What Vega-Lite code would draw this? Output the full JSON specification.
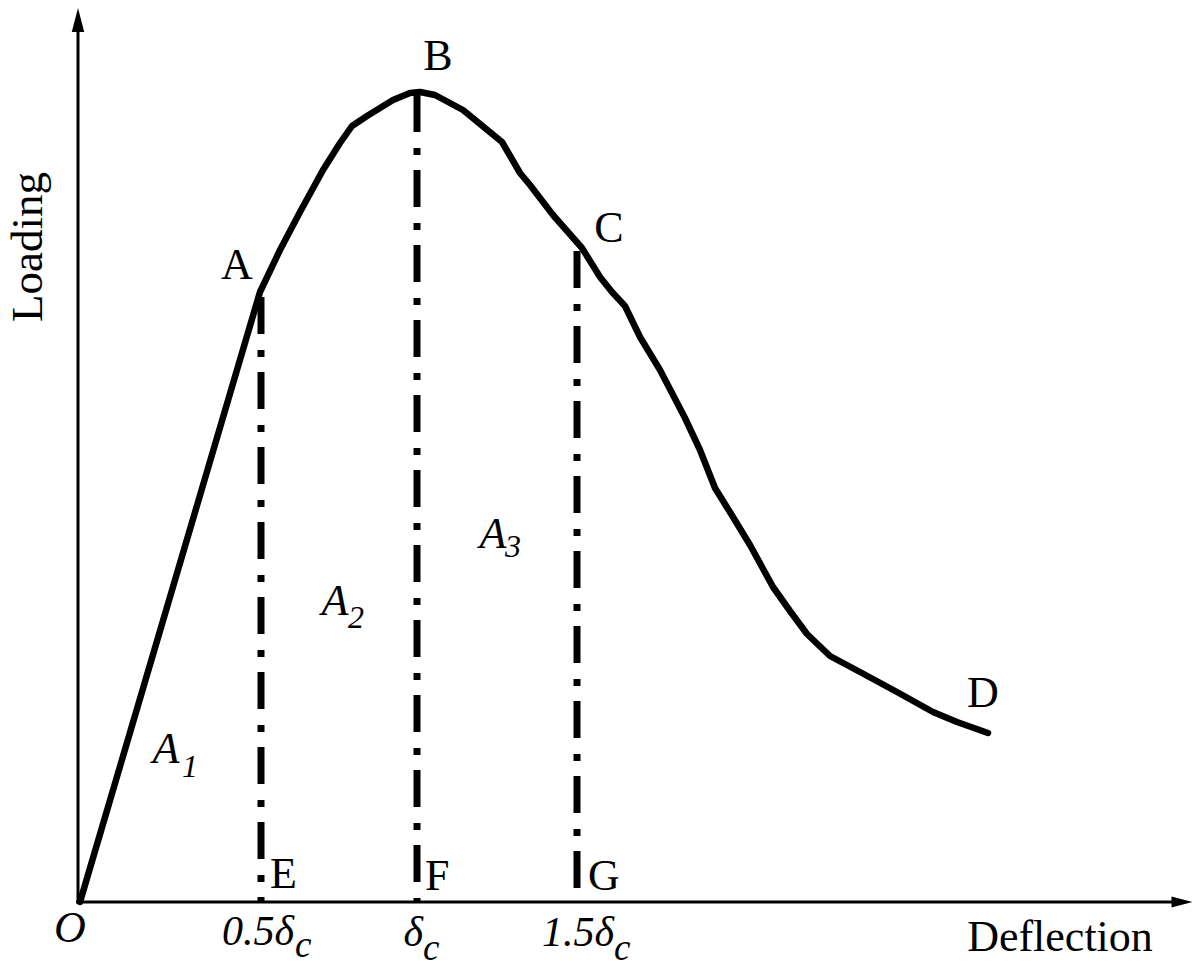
{
  "$schema": "https://vega.github.io/schema/vega-lite/v6.json",
  "width": 1201,
  "height": 975,
  "padding": 0,
  "autosize": {"type": "fit", "contains": "padding"},
  "background": "white",
  "config": {"view": {"stroke": null}},
  "datasets": {
    "curve": [
      {"x": 0, "y": 0}, {"x": 180, "y": 610}, {"x": 200, "y": 652}, {"x": 220, "y": 690},
      {"x": 243, "y": 732}, {"x": 260, "y": 759}, {"x": 272, "y": 776}, {"x": 287, "y": 786},
      {"x": 313, "y": 802}, {"x": 330, "y": 809}, {"x": 340, "y": 810}, {"x": 355, "y": 807}, {"x": 383, "y": 792},
      {"x": 422, "y": 760}, {"x": 440, "y": 729}, {"x": 450, "y": 717}, {"x": 473, "y": 687},
      {"x": 502, "y": 654}, {"x": 520, "y": 625}, {"x": 532, "y": 610}, {"x": 545, "y": 596},
      {"x": 560, "y": 565}, {"x": 580, "y": 532}, {"x": 605, "y": 484}, {"x": 620, "y": 452},
      {"x": 635, "y": 414}, {"x": 653, "y": 385}, {"x": 670, "y": 357}, {"x": 693, "y": 315},
      {"x": 710, "y": 291}, {"x": 727, "y": 268}, {"x": 750, "y": 246}, {"x": 780, "y": 230},
      {"x": 817, "y": 210}, {"x": 853, "y": 190}, {"x": 877, "y": 180}, {"x": 908, "y": 169}
    ],
    "axes": [
      {"x": -2, "y": 0, "x2": -2, "y2": 880},
      {"x": -4, "y": 0, "x2": 1100, "y2": 0}
    ],
    "arrows": [
      {"x": -2, "y": 882, "dir": "up"},
      {"x": 1102, "y": 0, "dir": "right"}
    ],
    "guides": [
      {"x": 181, "y": 605, "y2": 0},
      {"x": 337, "y": 807, "y2": 0},
      {"x": 497, "y": 651, "y2": 0}
    ],
    "labels": [
      {"x": 157, "y": 623, "text": "A", "align": "center"},
      {"x": 358, "y": 832, "text": "B", "align": "center"},
      {"x": 529, "y": 660, "text": "C", "align": "center"},
      {"x": 903, "y": 195, "text": "D", "align": "center"},
      {"x": 190, "y": 14, "text": "E", "align": "left"},
      {"x": 345, "y": 12, "text": "F", "align": "left"},
      {"x": 508, "y": 12, "text": "G", "align": "left"},
      {"x": 980, "y": -49, "text": "Deflection", "align": "center"}
    ],
    "italic": [
      {"x": -10, "y": -40, "text": "O", "align": "center"},
      {"x": 214, "y": -43, "text": "0.5δ", "align": "right"},
      {"x": 343, "y": -44, "text": "δ", "align": "right"},
      {"x": 534, "y": -44, "text": "1.5δ", "align": "right"},
      {"x": 215, "y": -55, "text": "c", "align": "left"},
      {"x": 343, "y": -58, "text": "c", "align": "left"},
      {"x": 534, "y": -58, "text": "c", "align": "left"},
      {"x": 86, "y": 139, "text": "A", "align": "center"},
      {"x": 255, "y": 287, "text": "A", "align": "center"},
      {"x": 413, "y": 354, "text": "A", "align": "center"}
    ],
    "subs": [
      {"x": 102, "y": 125, "text": "1"},
      {"x": 268, "y": 274, "text": "2"},
      {"x": 425, "y": 345, "text": "3"}
    ],
    "ylabel": [
      {"x": -38, "y": 655, "text": "Loading"}
    ]
  },
  "layer": [
    {
      "data": {"name": "axes"},
      "mark": {"type": "rule", "color": "black", "strokeWidth": 3},
      "encoding": {
        "x": {"field": "x", "type": "quantitative", "axis": null, "scale": {"domain": [-80, 1121], "nice": false, "zero": false}},
        "y": {"field": "y", "type": "quantitative", "axis": null, "scale": {"domain": [-73, 902], "nice": false, "zero": false}},
        "x2": {"field": "x2"},
        "y2": {"field": "y2"}
      }
    },
    {
      "data": {"name": "arrows"},
      "transform": [{"filter": "datum.dir === 'up'"}],
      "mark": {"type": "point", "shape": "M0,-1L-0.52,1L0.52,1Z", "filled": true, "color": "black", "size": 576, "opacity": 1},
      "encoding": {
        "x": {"field": "x", "type": "quantitative"},
        "y": {"field": "y", "type": "quantitative"}
      }
    },
    {
      "data": {"name": "arrows"},
      "transform": [{"filter": "datum.dir === 'right'"}],
      "mark": {"type": "point", "shape": "M1,0L-1,-0.52L-1,0.52Z", "filled": true, "color": "black", "size": 441, "opacity": 1},
      "encoding": {
        "x": {"field": "x", "type": "quantitative"},
        "y": {"field": "y", "type": "quantitative"}
      }
    },
    {
      "data": {"name": "guides"},
      "mark": {"type": "rule", "color": "black", "strokeWidth": 7, "strokeDash": [37, 16, 7, 15]},
      "encoding": {
        "x": {"field": "x", "type": "quantitative"},
        "y": {"field": "y", "type": "quantitative"},
        "y2": {"field": "y2"}
      }
    },
    {
      "data": {"name": "curve"},
      "mark": {"type": "line", "color": "black", "strokeWidth": 6.5, "strokeJoin": "round", "strokeCap": "round"},
      "encoding": {
        "x": {"field": "x", "type": "quantitative"},
        "y": {"field": "y", "type": "quantitative"},
        "order": {"field": "x", "type": "quantitative"}
      }
    },
    {
      "data": {"name": "labels"},
      "transform": [{"filter": "datum.align === 'center'"}],
      "mark": {"type": "text", "font": "Liberation Serif", "fontSize": 44, "color": "black", "align": "center", "baseline": "alphabetic"},
      "encoding": {
        "x": {"field": "x", "type": "quantitative"},
        "y": {"field": "y", "type": "quantitative"},
        "text": {"field": "text"}
      }
    },
    {
      "data": {"name": "labels"},
      "transform": [{"filter": "datum.align === 'left'"}],
      "mark": {"type": "text", "font": "Liberation Serif", "fontSize": 44, "color": "black", "align": "left", "baseline": "alphabetic"},
      "encoding": {
        "x": {"field": "x", "type": "quantitative"},
        "y": {"field": "y", "type": "quantitative"},
        "text": {"field": "text"}
      }
    },
    {
      "data": {"name": "italic"},
      "transform": [{"filter": "datum.align === 'center'"}],
      "mark": {"type": "text", "font": "Liberation Serif", "fontStyle": "italic", "fontSize": 44, "color": "black", "align": "center", "baseline": "alphabetic"},
      "encoding": {
        "x": {"field": "x", "type": "quantitative"},
        "y": {"field": "y", "type": "quantitative"},
        "text": {"field": "text"}
      }
    },
    {
      "data": {"name": "italic"},
      "transform": [{"filter": "datum.align === 'right'"}],
      "mark": {"type": "text", "font": "Liberation Serif", "fontStyle": "italic", "fontSize": 42, "color": "black", "align": "right", "baseline": "alphabetic"},
      "encoding": {
        "x": {"field": "x", "type": "quantitative"},
        "y": {"field": "y", "type": "quantitative"},
        "text": {"field": "text"}
      }
    },
    {
      "data": {"name": "italic"},
      "transform": [{"filter": "datum.align === 'left'"}],
      "mark": {"type": "text", "font": "Liberation Serif", "fontStyle": "italic", "fontSize": 37, "color": "black", "align": "left", "baseline": "alphabetic"},
      "encoding": {
        "x": {"field": "x", "type": "quantitative"},
        "y": {"field": "y", "type": "quantitative"},
        "text": {"field": "text"}
      }
    },
    {
      "data": {"name": "subs"},
      "mark": {"type": "text", "font": "Liberation Serif", "fontStyle": "italic", "fontSize": 32, "color": "black", "align": "left", "baseline": "alphabetic"},
      "encoding": {
        "x": {"field": "x", "type": "quantitative"},
        "y": {"field": "y", "type": "quantitative"},
        "text": {"field": "text"}
      }
    },
    {
      "data": {"name": "ylabel"},
      "mark": {"type": "text", "font": "Liberation Serif", "fontSize": 45, "color": "black", "align": "center", "baseline": "alphabetic", "angle": 270},
      "encoding": {
        "x": {"field": "x", "type": "quantitative"},
        "y": {"field": "y", "type": "quantitative"},
        "text": {"field": "text"}
      }
    }
  ]
}
